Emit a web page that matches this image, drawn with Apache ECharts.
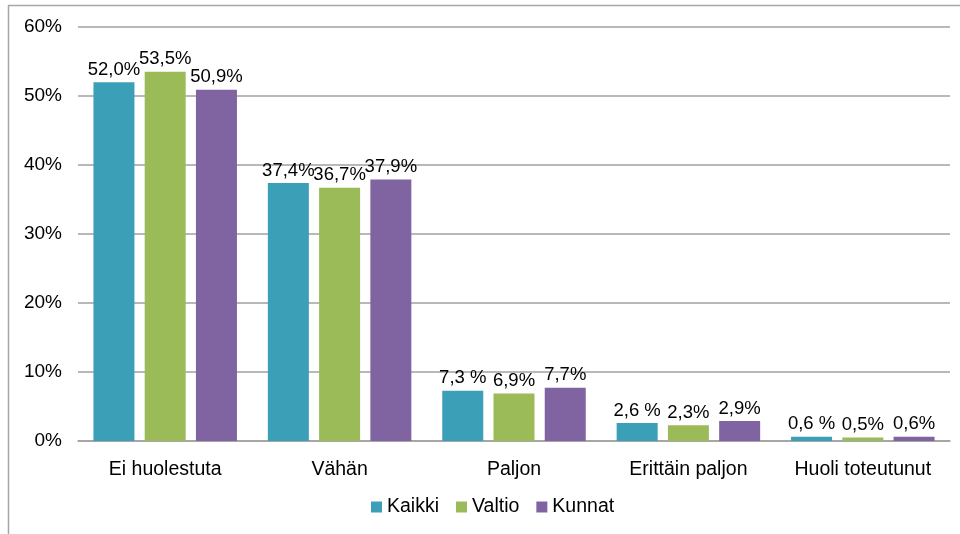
<!DOCTYPE html>
<html>
<head>
<meta charset="utf-8">
<script src="https://cdn.jsdelivr.net/npm/echarts@6/dist/echarts.min.js"></script>
<style>
  html, body { margin: 0; padding: 0; background: #fff; }
  #chart { width: 960px; height: 534px; }
</style>
</head>
<body>
<div id="chart"></div>
<script>
var categories = ['Ei huolestuta', 'Vähän', 'Paljon', 'Erittäin paljon', 'Huoli toteutunut'];
var kaikki = [52.0, 37.4, 7.3, 2.6, 0.6];
var valtio = [53.5, 36.7, 6.9, 2.3, 0.5];
var kunnat = [50.9, 37.9, 7.7, 2.9, 0.6];
// label texts as shown in the picture (some have a space before %)
var kaikkiLabels = ['52,0%', '37,4%', '7,3 %', '2,6 %', '0,6 %'];
var valtioLabels = ['53,5%', '36,7%', '6,9%', '2,3%', '0,5%'];
var kunnatLabels = ['50,9%', '37,9%', '7,7%', '2,9%', '0,6%'];

var myChart = echarts.init(document.getElementById('chart'));

function bar(name, data, labels, color) {
    return {
        name: name,
        type: 'bar',
        data: data,
        barWidth: 41,
        barGap: '25%',
        itemStyle: { color: color },
        label: {
            show: true,
            position: 'top',
            distance: 3,
            color: '#000',
            fontFamily: 'Liberation Sans, Arial',
            fontSize: 18.5,
            formatter: function (p) { return labels[p.dataIndex]; }
        }
    };
}

var option = {
    animation: false,
    textStyle: { fontFamily: 'Liberation Sans, Arial' },
    graphic: [{
        type: 'rect',
        shape: { x: 8.5, y: 5.5, width: 1200, height: 800 },
        style: { fill: 'none', stroke: '#a6a6a6', lineWidth: 1.5 },
        silent: true
    }],
    grid: { left: 78, right: 10, top: 27, bottom: 93 },
    legend: {
        data: ['Kaikki', 'Valtio', 'Kunnat'],
        top: 497,
        left: 371,
        padding: 0,
        itemWidth: 11,
        itemHeight: 11,
        itemGap: 17,
        icon: 'rect',
        textStyle: { color: '#000', fontSize: 19.5, fontFamily: 'Liberation Sans, Arial' }
    },
    xAxis: {
        type: 'category',
        data: categories,
        axisTick: { show: false },
        axisLine: { lineStyle: { color: '#a0a0a0', width: 1.5 } },
        axisLabel: { color: '#000', fontSize: 19.5, margin: 19, interval: 0, hideOverlap: false }
    },
    yAxis: {
        type: 'value',
        min: 0,
        max: 60,
        interval: 10,
        axisLine: { show: false },
        axisTick: { show: false },
        splitLine: { lineStyle: { color: '#a0a0a0', width: 1.5 } },
        axisLabel: {
            color: '#000',
            fontSize: 19,
            margin: 16,
            formatter: function (v) { return v + '%'; }
        }
    },
    series: [
        bar('Kaikki', kaikki, kaikkiLabels, '#3b9fb8'),
        bar('Valtio', valtio, valtioLabels, '#9bbb59'),
        bar('Kunnat', kunnat, kunnatLabels, '#8064a2')
    ]
};
myChart.setOption(option);
</script>
</body>
</html>
